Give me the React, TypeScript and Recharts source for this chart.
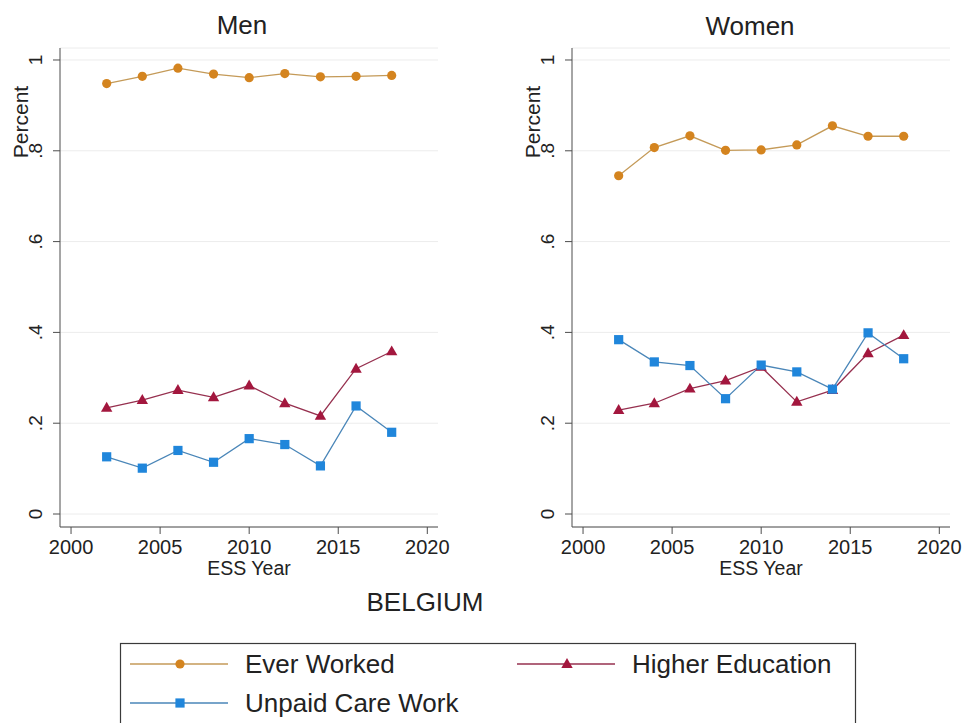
import React from "react";
import { CartesianGrid, Line, LineChart, XAxis, YAxis } from "recharts";

// ESS rounds, Belgium
const years = [2002, 2004, 2006, 2008, 2010, 2012, 2014, 2016, 2018];

const menEverWorked = [0.948, 0.964, 0.982, 0.969, 0.961, 0.97, 0.963, 0.964, 0.966];
const menHigherEducation = [0.234, 0.251, 0.273, 0.257, 0.283, 0.244, 0.216, 0.32, 0.358];
const menUnpaidCare = [0.126, 0.101, 0.14, 0.114, 0.166, 0.153, 0.106, 0.238, 0.18];

const womenEverWorked = [0.745, 0.807, 0.833, 0.801, 0.802, 0.813, 0.855, 0.832, 0.832];
const womenHigherEducation = [0.229, 0.244, 0.276, 0.294, 0.324, 0.247, 0.273, 0.354, 0.394];
const womenUnpaidCare = [0.384, 0.335, 0.327, 0.254, 0.328, 0.313, 0.275, 0.399, 0.342];

const yTicks = [0, 0.2, 0.4, 0.6, 0.8, 1];
const xTicks = [2000, 2005, 2010, 2015, 2020];

const FONT = "'Liberation Sans', Arial, Helvetica, sans-serif";
const AXIS = "#4d4d4d";
const TEXT = "#222";

type Shape = "circle" | "square" | "triangle";

const series: { key: string; name: string; marker: string; line: string; shape: Shape }[] = [
  { key: "ever", name: "Ever Worked", marker: "#d4841f", line: "#c49a58", shape: "circle" },
  { key: "higher", name: "Higher Education", marker: "#a3173e", line: "#96304f", shape: "triangle" },
  { key: "unpaid", name: "Unpaid Care Work", marker: "#2086db", line: "#4a86b8", shape: "square" },
];

const toRows = (ever: number[], higher: number[], unpaid: number[]) =>
  years.map((year, i) => ({ year, ever: ever[i], higher: higher[i], unpaid: unpaid[i] }));

const menRows = toRows(menEverWorked, menHigherEducation, menUnpaidCare);
const womenRows = toRows(womenEverWorked, womenHigherEducation, womenUnpaidCare);

function Marker({ cx, cy, shape, color }: { cx: number; cy: number; shape: Shape; color: string }) {
  if (cx == null || cy == null) return null;
  if (shape === "circle") return <circle cx={cx} cy={cy} r={4.6} fill={color} />;
  if (shape === "square") return <rect x={cx - 4.6} y={cy - 4.6} width={9.2} height={9.2} fill={color} />;
  const s = 6;
  return (
    <polygon
      points={`${cx},${cy - s} ${cx - s * 0.95},${cy + s * 0.65} ${cx + s * 0.95},${cy + s * 0.65}`}
      fill={color}
    />
  );
}

function YTick(props: any) {
  const { x, y, payload } = props;
  const label = payload.value === 0 ? "0" : payload.value === 1 ? "1" : String(payload.value).replace(/^0/, "");
  return (
    <text
      x={x - 17}
      y={y}
      transform={`rotate(-90 ${x - 17} ${y})`}
      textAnchor="middle"
      dominantBaseline="central"
      fontSize={19}
      fontFamily={FONT}
      fill={TEXT}
    >
      {label}
    </text>
  );
}

function PercentLabel(props: any) {
  const vb = props.viewBox || { x: 0, y: 48, width: 60 };
  const x = vb.x + vb.width - 40;
  const y = vb.y + 74;
  return (
    <text
      x={x}
      y={y}
      transform={`rotate(-90 ${x} ${y})`}
      textAnchor="middle"
      dominantBaseline="central"
      fontSize={21}
      fontFamily={FONT}
      fill={TEXT}
    >
      Percent
    </text>
  );
}

function YearLabel(props: any) {
  const vb = props.viewBox || { x: 60, y: 527, width: 378 };
  return (
    <text x={vb.x + vb.width / 2} y={vb.y + 48} textAnchor="middle" fontSize={19.5} fontFamily={FONT} fill={TEXT}>
      ESS Year
    </text>
  );
}

function Panel({ rows, left }: { rows: any[]; left: number }) {
  return (
    <LineChart
      width={480}
      height={600}
      data={rows}
      margin={{ top: 48, right: 42, bottom: 0, left: 0 }}
      style={{ position: "absolute", left, top: 0 }}
    >
      <CartesianGrid vertical={false} stroke="#ececec" strokeWidth={1} />
      <XAxis
        dataKey="year"
        type="number"
        domain={[1999.38, 2020.6]}
        ticks={xTicks}
        allowDataOverflow
        height={73}
        stroke={AXIS}
        tickSize={7}
        tickMargin={6}
        tick={{ fontSize: 20, fontFamily: FONT, fill: TEXT }}
        label={<YearLabel />}
      />
      <YAxis
        type="number"
        domain={[-0.0286, 1.0264]}
        ticks={yTicks}
        allowDataOverflow
        width={60}
        stroke={AXIS}
        tickSize={7}
        tickMargin={0}
        tick={<YTick />}
        label={<PercentLabel />}
      />
      {series.map((s) => (
        <Line
          key={s.key}
          type="linear"
          dataKey={s.key}
          stroke={s.line}
          strokeWidth={1.3}
          isAnimationActive={false}
          dot={(p: any) => <Marker key={`${s.key}-${p.index}`} cx={p.cx} cy={p.cy} shape={s.shape} color={s.marker} />}
          activeDot={false}
        />
      ))}
    </LineChart>
  );
}

function LegendBox() {
  const slots = [
    { x: 130, y: 664 },
    { x: 517, y: 664 },
    { x: 130, y: 703 },
  ];
  const order = [series[0], series[1], series[2]];
  return (
    <svg width={965} height={723} style={{ position: "absolute", left: 0, top: 0, pointerEvents: "none" }}>
      <rect x={120.5} y={643.5} width={735} height={110} fill="none" stroke="#3a3a3a" strokeWidth={1.2} />
      {order.map((s, i) => {
        const { x, y } = slots[i];
        return (
          <g key={s.key}>
            <line x1={x} x2={x + 98} y1={y} y2={y} stroke={s.line} strokeWidth={1.6} />
            <Marker cx={x + 50} cy={y} shape={s.shape} color={s.marker} />
            <text x={x + 115} y={y} dominantBaseline="central" fontSize={26} fontFamily={FONT} fill={TEXT}>
              {s.name}
            </text>
          </g>
        );
      })}
      <text x={425} y={602} textAnchor="middle" dominantBaseline="central" fontSize={26} fontFamily={FONT} fill={TEXT}>
        BELGIUM
      </text>
      <text x={242} y={34} textAnchor="middle" fontSize={26} fontFamily={FONT} fill={TEXT}>
        Men
      </text>
      <text x={750} y={35} textAnchor="middle" fontSize={26} fontFamily={FONT} fill={TEXT}>
        Women
      </text>
    </svg>
  );
}

export default function App() {
  return (
    <div
      style={{
        position: "absolute",
        left: 0,
        top: 0,
        width: 965,
        height: 723,
        overflow: "hidden",
        background: "#fff",
        fontFamily: FONT,
      }}
    >
      <Panel rows={menRows} left={0} />
      <Panel rows={womenRows} left={512} />
      <LegendBox />
    </div>
  );
}
